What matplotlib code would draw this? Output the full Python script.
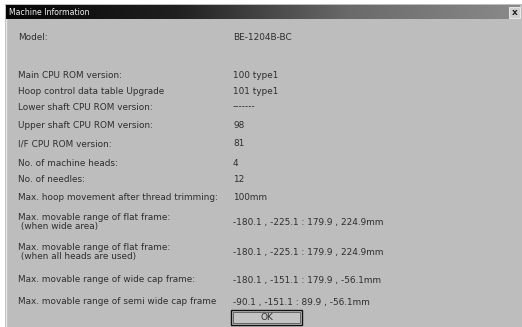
import numpy as np
import matplotlib
matplotlib.use("Agg")
import matplotlib.pyplot as plt
from matplotlib.patches import Rectangle

title = "Machine Information"
labels = [
    "Model:",
    "Main CPU ROM version:",
    "Hoop control data table Upgrade",
    "Lower shaft CPU ROM version:",
    "Upper shaft CPU ROM version:",
    "I/F CPU ROM version:",
    "No. of machine heads:",
    "No. of needles:",
    "Max. hoop movement after thread trimming:",
    "Max. movable range of flat frame:\n (when wide area)",
    "Max. movable range of flat frame:\n (when all heads are used)",
    "Max. movable range of wide cap frame:",
    "Max. movable range of semi wide cap frame",
]
values = [
    "BE-1204B-BC",
    "100 type1",
    "101 type1",
    "-------",
    "98",
    "81",
    "4",
    "12",
    "100mm",
    "-180.1 , -225.1 : 179.9 , 224.9mm",
    "-180.1 , -225.1 : 179.9 , 224.9mm",
    "-180.1 , -151.1 : 179.9 , -56.1mm",
    "-90.1 , -151.1 : 89.9 , -56.1mm",
]
row_y = [37, 76, 91, 107, 126, 144, 163, 180, 197, 222, 252, 280, 302]
button_text = "OK"

W, H = 522, 327
fig = plt.figure(figsize=(W / 100, H / 100), dpi=100)
ax = fig.add_axes([0, 0, 1, 1])
ax.set_xlim(0, W)
ax.set_ylim(H, 0)
ax.axis("off")
fig.patch.set_facecolor("white")

bg = "#bdbdbd"
ax.add_patch(Rectangle((5, 4), W - 5, H - 4, facecolor=bg, edgecolor="none"))
ax.plot([6, 6], [19, H], color="#e6e6e6", lw=1)

# title bar gradient
grad = np.linspace(0, 1, 256).reshape(1, -1)
ax.imshow(grad, extent=(6, W - 2, 19, 5), cmap=matplotlib.colors.LinearSegmentedColormap.from_list(
    "tb", ["#050505", "#202020", "#6a6a6a", "#8a8a8a"]), aspect="auto", zorder=2)
ax.text(9, 12.5, title, color="#f0f0f0", fontsize=5.6, va="center", ha="left", zorder=3,
        family="DejaVu Sans")
# close button
ax.add_patch(Rectangle((509, 6.5), 11, 11, facecolor="#cfcfcf", edgecolor="#f0f0f0", lw=0.6, zorder=3))
ax.text(514.5, 12.2, "x", color="#222222", fontsize=6.5, ha="center", va="center", zorder=4,
        fontweight="bold")

tc = "#2e2e2e"
fs = 6.4
for lab, val, y in zip(labels, values, row_y):
    ax.text(18, y, lab, color=tc, fontsize=fs, va="center", ha="left", linespacing=1.1)
    ax.text(233, y, val, color=tc, fontsize=fs, va="center", ha="left")

# OK button
ax.add_patch(Rectangle((231, 310), 71, 15, facecolor="#c4c4c4", edgecolor="#111111", lw=1.0))
ax.add_patch(Rectangle((233, 312), 67, 11, facecolor="none", edgecolor="#555555", lw=0.6))
ax.text(266.5, 317.5, button_text, color=tc, fontsize=6.4, ha="center", va="center")

fig.savefig("out.png", dpi=100)
